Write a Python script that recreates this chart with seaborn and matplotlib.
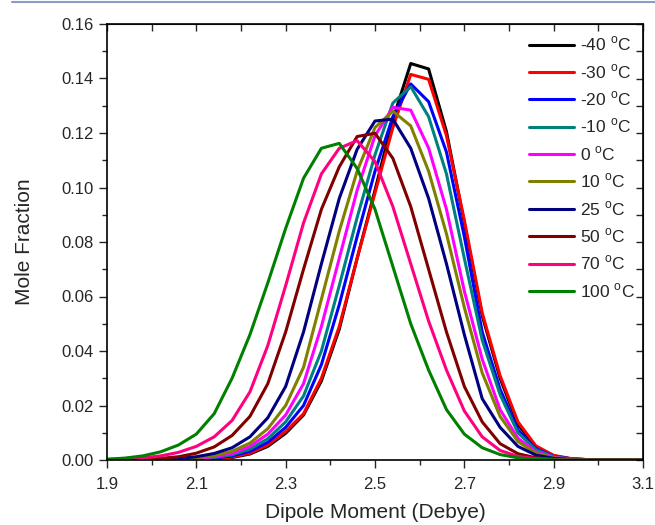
import matplotlib
matplotlib.use('Agg')
import matplotlib.pyplot as plt
import seaborn as sns
import pandas as pd
from matplotlib.lines import Line2D
from matplotlib.ticker import MultipleLocator, FormatStrFormatter

# dipole moment grid (Debye)
dipole = [1.90, 1.94, 1.98, 2.02, 2.06, 2.10, 2.14, 2.18, 2.22, 2.26, 2.30,
          2.34, 2.38, 2.42, 2.46, 2.50, 2.54, 2.58, 2.62, 2.66, 2.70, 2.74,
          2.78, 2.82, 2.86, 2.90, 2.94, 2.98, 3.02, 3.06, 3.10]

temps = ['-40', '-30', '-20', '-10', '0', '10', '25', '50', '70', '100']
colors = ['#000000', '#FF0000', '#0000FF', '#008080', '#FF00FF',
          '#808000', '#000080', '#800000', '#FF0080', '#008000']

x_major = [1.9, 2.1, 2.3, 2.5, 2.7, 2.9, 3.1]
x_minor = [2.0, 2.2, 2.4, 2.6, 2.8, 3.0]

t_m40 = [0, 0, 0, 0, 0.0001, 0.0002, 0.0004, 0.0009, 0.0022, 0.0050, 0.0098,
         0.0165, 0.0290, 0.0480, 0.0740, 0.0990, 0.1250, 0.1455, 0.1435, 0.1205, 0.0870, 0.0530,
         0.0300, 0.0130, 0.0048, 0.0015, 0.0004, 0.0001, 0, 0, 0]
t_m30 = [0, 0, 0, 0, 0.0001, 0.0003, 0.0005, 0.0011, 0.0025, 0.0055, 0.0105,
         0.0170, 0.0300, 0.0490, 0.0740, 0.0980, 0.1220, 0.1415, 0.1397, 0.1190, 0.0880, 0.0540,
         0.0310, 0.0140, 0.0052, 0.0017, 0.0005, 0.0001, 0, 0, 0]
t_m20 = [0, 0, 0, 0.0001, 0.0002, 0.0004, 0.0007, 0.0015, 0.0032, 0.0065, 0.0120,
         0.0200, 0.0350, 0.0570, 0.0820, 0.1060, 0.1260, 0.1380, 0.1315, 0.1130, 0.0820, 0.0470,
         0.0260, 0.0110, 0.0042, 0.0013, 0.0004, 0.0001, 0, 0, 0]
t_m10 = [0, 0, 0.0001, 0.0001, 0.0002, 0.0005, 0.0009, 0.0019, 0.0040, 0.0078, 0.0140,
         0.0235, 0.0400, 0.0640, 0.0890, 0.1120, 0.1310, 0.1370, 0.1260, 0.1050, 0.0740, 0.0440,
         0.0240, 0.0100, 0.0038, 0.0012, 0.0003, 0.0001, 0, 0, 0]
t_0 = [0, 0, 0.0001, 0.0002, 0.0003, 0.0006, 0.0012, 0.0024, 0.0050, 0.0095, 0.0165,
       0.0280, 0.0490, 0.0740, 0.0990, 0.1190, 0.1294, 0.1284, 0.1145, 0.0920, 0.0620, 0.0370,
       0.0185, 0.0080, 0.0030, 0.0010, 0.0003, 0.0001, 0, 0, 0]
t_10 = [0, 0.0001, 0.0001, 0.0002, 0.0004, 0.0008, 0.0016, 0.0032, 0.0062, 0.0115, 0.0200,
        0.0340, 0.0590, 0.0840, 0.1060, 0.1220, 0.1280, 0.1226, 0.1060, 0.0830, 0.0560, 0.0320,
        0.0160, 0.0068, 0.0025, 0.0008, 0.0002, 0.0001, 0, 0, 0]
t_25 = [0, 0.0001, 0.0002, 0.0003, 0.0006, 0.0012, 0.0024, 0.0045, 0.0085, 0.0155, 0.0270,
        0.0470, 0.0720, 0.0960, 0.1140, 0.1244, 0.1251, 0.1144, 0.0960, 0.0720, 0.0460, 0.0225,
        0.0120, 0.0050, 0.0018, 0.0006, 0.0002, 0.0001, 0, 0, 0]
t_50 = [0.0001, 0.0002, 0.0003, 0.0006, 0.0012, 0.0025, 0.0048, 0.0090, 0.0160, 0.0280, 0.0470,
        0.0700, 0.0920, 0.1076, 0.1187, 0.1199, 0.1107, 0.0930, 0.0700, 0.0470, 0.0270, 0.0140,
        0.0060, 0.0023, 0.0008, 0.0003, 0.0001, 0, 0, 0, 0]
t_70 = [0.0002, 0.0004, 0.0008, 0.0015, 0.0028, 0.0050, 0.0085, 0.0145, 0.0250, 0.0420, 0.0640,
        0.0870, 0.1050, 0.1144, 0.1172, 0.1095, 0.0930, 0.0720, 0.0510, 0.0330, 0.0180, 0.0085,
        0.0035, 0.0013, 0.0005, 0.0002, 0.0001, 0, 0, 0, 0]
t_100 = [0.0003, 0.0007, 0.0015, 0.0030, 0.0055, 0.0095, 0.0170, 0.0300, 0.0460, 0.0650, 0.0850,
         0.1034, 0.1144, 0.1162, 0.1070, 0.0920, 0.0710, 0.0500, 0.0330, 0.0185, 0.0095, 0.0045,
         0.0020, 0.0008, 0.0003, 0.0001, 0, 0, 0, 0, 0]

series = [t_m40, t_m30, t_m20, t_m10, t_0, t_10, t_25, t_50, t_70, t_100]

rows = []
for t, vals in zip(temps, series):
    for x, y in zip(dipole, vals):
        rows.append({'x': x, 'y': y, 'T': t})
df = pd.DataFrame(rows)

sns.set_style('ticks')
plt.rcParams['font.family'] = ['Liberation Sans', 'DejaVu Sans']

fig = plt.figure(figsize=(6.55, 5.25), dpi=100)
ax = fig.add_axes([107 / 655, 65 / 525, 536 / 655, 436 / 525])

sns.lineplot(data=df, x='x', y='y', hue='T', hue_order=temps,
             palette=dict(zip(temps, colors)), linewidth=2.2, ax=ax, legend=False)

ax.set_xlim(1.9, 3.1)
ax.set_ylim(0, 0.16)
ax.set_xlabel('Dipole Moment (Debye)', fontsize=15, labelpad=8)
ax.set_ylabel('Mole Fraction', fontsize=15, labelpad=20)

ax.set_xticks(x_major)
ax.set_xticks(x_minor, minor=True)
ax.xaxis.set_major_formatter(FormatStrFormatter('%.1f'))
ax.yaxis.set_major_locator(MultipleLocator(0.02))
ax.yaxis.set_minor_locator(MultipleLocator(0.01))
ax.yaxis.set_major_formatter(FormatStrFormatter('%.2f'))
ax.tick_params(which='major', direction='out', length=6, width=1, labelsize=12)
ax.tick_params(axis='x', which='major', pad=6)
ax.tick_params(which='minor', direction='out', length=3.5, width=1)
for s in ax.spines.values():
    s.set_linewidth(1.2)
    s.set_color('black')

# mirrored ticks on top and right, pointing inward
top = ax.secondary_xaxis('top')
top.set_xticks(x_major + x_minor)
top.tick_params(direction='in', length=5, width=1, labeltop=False)
right = ax.secondary_yaxis('right')
right.yaxis.set_major_locator(MultipleLocator(0.01))
right.tick_params(direction='in', length=5, width=1, labelright=False)

handles = [Line2D([], [], color=c, lw=2.2) for c in colors]
labels = [t + r' $^\mathregular{o}$C' for t in temps]
ax.legend(handles, labels, loc='upper right', bbox_to_anchor=(0.985, 0.975),
          frameon=False, fontsize=12.5, handlelength=2.6, handletextpad=0.35,
          labelspacing=0.5, borderpad=0, borderaxespad=0)

fig.add_artist(Line2D([12 / 655, 1], [1 - 1.5 / 525, 1 - 1.5 / 525],
                      color='#8a9bc8', lw=1.5))

fig.savefig('out.png', dpi=100)
